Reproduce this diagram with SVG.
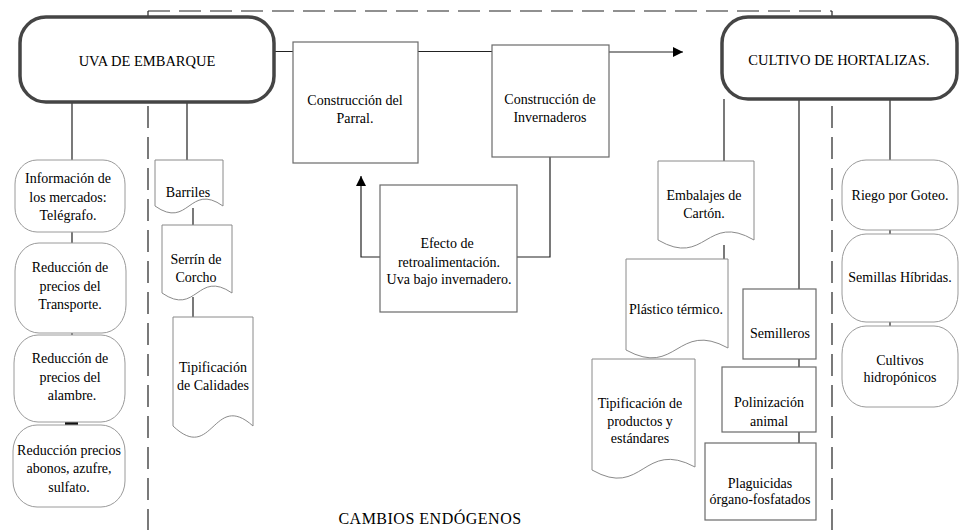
<svg xmlns="http://www.w3.org/2000/svg" width="966" height="530" viewBox="0 0 966 530">
<style>
text{font-family:'Liberation Serif','Times New Roman',serif;font-size:14px;fill:#000;text-anchor:middle}
.cap{font-size:14.5px}
.foot{font-size:16px;letter-spacing:0.5px}
.big{fill:#fff;stroke:#454545;stroke-width:3.5}
.rnd{fill:#fff;stroke:#9a9a9a;stroke-width:1}
.box{fill:#fff;stroke:#6a6a6a;stroke-width:1.2}
.doc{fill:#fff;stroke:#8a8a8a;stroke-width:1}
.ln{fill:none;stroke:#222;stroke-width:1.2}
.dash{fill:none;stroke:#222;stroke-width:1.2;stroke-dasharray:22 9}
</style>
<defs>
<marker id="ah" viewBox="0 0 10 10" refX="10" refY="5" markerWidth="10" markerHeight="10" markerUnits="userSpaceOnUse" orient="auto">
<path d="M0,0 L10,5 L0,10 Z" fill="#000"/>
</marker>
</defs>
<rect width="966" height="530" fill="#fff"/>
<g id="frame">
<path class="dash" d="M148,11 H832"/>
<path class="ln" d="M148,11 V17 M832,11 V17"/>
<path class="dash" d="M148,106 V530"/>
<path class="dash" d="M832,106 V530"/>
</g>
<g id="connectors">
<path class="ln" d="M274,51.5 H293 M418,51.5 H492"/>
<path class="ln" d="M609,52 H683" marker-end="url(#ah)"/>
<path class="ln" d="M550,157 V257 H517"/>
<path class="ln" d="M380,257 H361 V176" marker-end="url(#ah)"/>
<path class="ln" d="M72,102 V160 M72,232 V243 M72,333 V335 M72,418 V425"/>
<rect x="65" y="421.5" width="13" height="3.5" fill="#111"/>
<path class="ln" d="M187,102 V160 M193,208 V225 M193,297 V317"/>
<path class="ln" d="M724,99 V161 M724,245 V259"/>
<path class="ln" d="M799,99 V289 M799,359 V367 M799,432 V443"/>
<path class="ln" d="M890,99 V160 M890,230 V234 M890,322 V326"/>
</g>
<g id="uva">
<rect class="big" x="20" y="17" width="254" height="85" rx="26" ry="26"/>
<text class="cap" x="147" y="66">UVA DE EMBARQUE</text>
</g>
<g id="cultivo">
<rect class="big" x="722" y="17" width="235" height="82" rx="26" ry="26"/>
<text class="cap" x="839" y="65">CULTIVO DE HORTALIZAS.</text>
</g>
<g id="parral">
<rect class="box" x="293" y="42" width="125" height="121"/>
<text x="355" y="105">Construcción del</text>
<text x="355" y="123">Parral.</text>
</g>
<g id="invernaderos">
<rect class="box" x="492" y="45" width="117" height="112"/>
<text x="550" y="104">Construcción de</text>
<text x="550" y="122">Invernaderos</text>
</g>
<g id="retro">
<rect class="box" x="380" y="185" width="137" height="127"/>
<text x="447" y="248">Efecto de</text>
<text x="449" y="267">retroalimentación.</text>
<text x="449" y="284">Uva bajo invernadero.</text>
</g>
<g id="info">
<rect class="rnd" x="15" y="160" width="110" height="72" rx="22" ry="24"/>
<text x="68" y="183">Información de</text>
<text x="68" y="202">los mercados:</text>
<text x="68" y="220">Telégrafo.</text>
</g>
<g id="transporte">
<rect class="rnd" x="15" y="243" width="111" height="90" rx="24" ry="28"/>
<text x="70" y="272">Reducción de</text>
<text x="70" y="291">precios del</text>
<text x="70" y="309">Transporte.</text>
</g>
<g id="alambre">
<rect class="rnd" x="14" y="335" width="111" height="87" rx="24" ry="28"/>
<text x="70" y="363">Reducción de</text>
<text x="70" y="382">precios del</text>
<text x="72" y="400">alambre.</text>
</g>
<g id="abonos">
<rect class="rnd" x="13" y="425" width="112" height="82" rx="24" ry="26"/>
<text x="69" y="455">Reducción precios</text>
<text x="69" y="473">abonos, azufre,</text>
<text x="69" y="492">sulfato.</text>
</g>
<g id="barriles">
<path class="doc" d="M155,160 H223 V206 C189,182 189,230 155,206 Z"/>
<text x="188" y="197">Barriles</text>
</g>
<g id="serrin">
<path class="doc" d="M162,225 H232 V293 C197,269 197,317 162,293 Z"/>
<text x="196" y="264">Serrín de</text>
<text x="196" y="282">Corcho</text>
</g>
<g id="calidades">
<path class="doc" d="M173,317 H253 V426 C213,390 213,464 173,426 Z"/>
<text x="213" y="372">Tipificación</text>
<text x="213" y="390">de Calidades</text>
</g>
<g id="embalajes">
<path class="doc" d="M658,161 H754 V240 C706,212 706,268 658,240 Z"/>
<text x="704" y="200">Embalajes de</text>
<text x="704" y="218">Cartón.</text>
</g>
<g id="plastico">
<path class="doc" d="M626,259 H728 V348 C677,320 677,378 626,350 Z"/>
<text x="676" y="314">Plástico térmico.</text>
</g>
<g id="tipificacion">
<path class="doc" d="M592,359 H695 V467 C643,439 643,499 592,470 Z"/>
<text x="640" y="408">Tipificación de</text>
<text x="640" y="426">productos y</text>
<text x="640" y="443">estándares</text>
</g>
<g id="semilleros">
<rect class="box" x="743" y="289" width="73" height="70"/>
<text x="780" y="338">Semilleros</text>
</g>
<g id="polinizacion">
<rect class="box" x="722" y="367" width="94" height="65"/>
<text x="769" y="407">Polinización</text>
<text x="769" y="426">animal</text>
</g>
<g id="plaguicidas">
<rect class="box" x="705" y="443" width="111" height="77"/>
<text x="760" y="488">Plaguicidas</text>
<text x="760" y="504">órgano-fosfatados</text>
</g>
<g id="riego">
<rect class="rnd" x="842" y="160" width="116" height="70" rx="24" ry="26"/>
<text x="900" y="200">Riego por Goteo.</text>
</g>
<g id="semillas">
<rect class="rnd" x="842" y="234" width="116" height="88" rx="24" ry="28"/>
<text x="900" y="282">Semillas Híbridas.</text>
</g>
<g id="hidroponicos">
<rect class="rnd" x="842" y="326" width="116" height="81" rx="24" ry="28"/>
<text x="900" y="365">Cultivos</text>
<text x="900" y="382">hidropónicos</text>
</g>
<g id="label">
<text class="foot" x="430" y="524">CAMBIOS ENDÓGENOS</text>
</g>
</svg>
